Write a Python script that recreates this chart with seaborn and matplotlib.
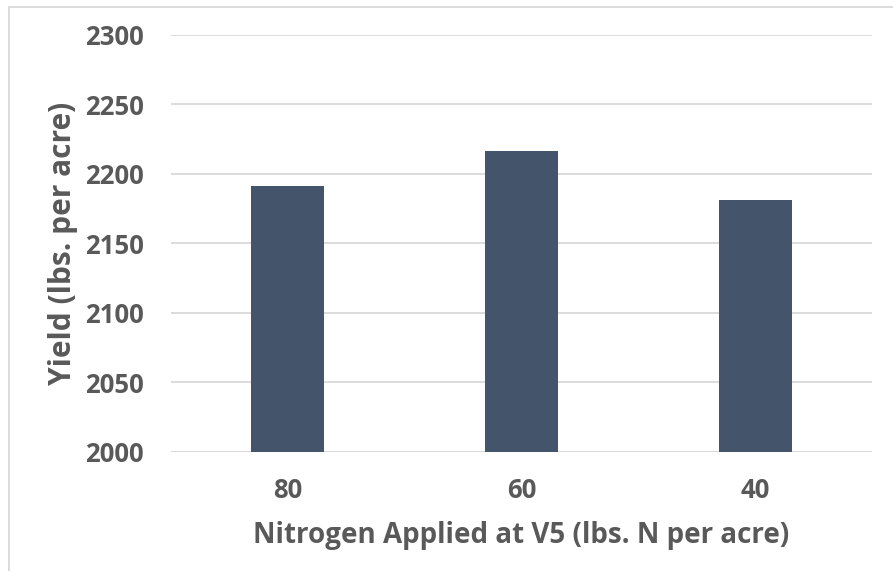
import matplotlib
matplotlib.use("Agg")
import matplotlib.pyplot as plt
import seaborn as sns
import pandas as pd
from matplotlib.patches import Rectangle

# Yield by nitrogen rate applied at V5
nitrogen_rates = ["80", "60", "40"]
yield_values = [2191, 2216, 2181]
y_ticks = [2000, 2050, 2100, 2150, 2200, 2250, 2300]

df = pd.DataFrame({"rate": nitrogen_rates, "yield": yield_values})

sns.set_theme(style="white")
plt.rcParams["font.family"] = ["Open Sans", "DejaVu Sans"]

text_color = "#595959"
bar_color = "#44546A"
grid_color = "#D9D9D9"

fig = plt.figure(figsize=(8.93, 5.71), dpi=100)
ax = fig.add_axes([171 / 893, 1 - 452 / 571, (872 - 171) / 893, (452 - 34.5) / 571])

sns.barplot(data=df, x="rate", y="yield", order=nitrogen_rates,
            color=bar_color, width=0.313, ax=ax, zorder=3)
for p in ax.patches:
    p.set_facecolor(bar_color)
    p.set_edgecolor("none")

ax.set_ylim(2000, 2300)
ax.set_yticks(y_ticks)
ax.set_xlim(-0.5, 2.5)
ax.yaxis.grid(True, color=grid_color, linewidth=1.3, zorder=0)
ax.xaxis.grid(False)
for s in ax.spines.values():
    s.set_visible(False)
ax.axhline(2000, color=grid_color, linewidth=1.3, zorder=2)

ax.tick_params(axis="y", length=0, pad=19.5, labelsize=18.5, labelcolor=text_color)
ax.tick_params(axis="x", length=0, pad=18, labelsize=18.5, labelcolor=text_color)
for lbl in ax.get_xticklabels() + ax.get_yticklabels():
    lbl.set_fontweight("bold")

ax.set_xlabel("Nitrogen Applied at V5 (lbs. N per acre)", fontsize=20,
              fontweight="bold", color=text_color, labelpad=12)
ax.set_ylabel("Yield (lbs. per acre)", fontsize=21.5, fontweight="bold",
              color=text_color, labelpad=5)

# outer chart frame
fig.patches.append(Rectangle((9 / 893, -0.1), 1.2, 1 - 7 / 571 + 0.1,
                             transform=fig.transFigure, fill=False,
                             edgecolor="#D9D9D9", linewidth=1.3))

fig.savefig("out.png", dpi=100, facecolor="white")
